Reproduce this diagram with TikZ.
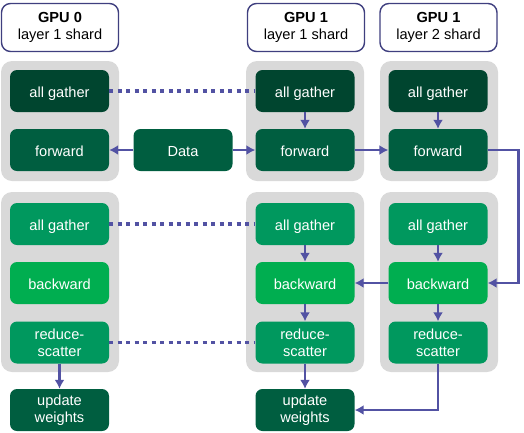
\documentclass[tikz,border=0pt]{standalone}
\usepackage{fontspec}
\setmainfont{Liberation Sans}
\usetikzlibrary{arrows.meta}
\definecolor{agtop}{HTML}{00452F}
\definecolor{fwd}{HTML}{005E40}
\definecolor{agbot}{HTML}{00985E}
\definecolor{bwd}{HTML}{00AE50}
\definecolor{panel}{HTML}{D9D9D9}
\definecolor{link}{HTML}{5252A3}
\definecolor{headline}{HTML}{3F3F7F}

\begin{document}
\begin{tikzpicture}[x=1pt,y=-1pt,>={Latex[length=9pt,width=10pt]},
	every node/.style={font=\fontsize{14.6}{17}\selectfont},
	head/.style={draw=headline,line width=1.4pt,fill=white,rounded corners=9pt,
		minimum width=117pt,minimum height=48pt,align=center,inner sep=0pt},
	panelbox/.style={fill=panel,rounded corners=11pt,minimum width=118pt,inner sep=0pt},
	stepbox/.style={rounded corners=7pt,minimum width=99pt,minimum height=42pt,
		align=center,text=white,inner sep=0pt},
	oneline/.style={stepbox,text height=13pt,text depth=0pt},
	arr/.style={->,link,line width=2.5pt},
	dots/.style={link,line width=3.5pt,dash pattern=on 4pt off 4.5pt}]
	
	\useasboundingbox (0,0) rectangle (524,432);
	
	% Headers
	\node[head] (h0) at (60,27.5) {\textbf{GPU 0}\\layer 1 shard};
	\node[head] (h1) at (306,27.5) {\textbf{GPU 1}\\layer 1 shard};
	\node[head] (h2) at (438.5,27.5) {\textbf{GPU 1}\\layer 2 shard};
	
	% Panels
	\node[panelbox,minimum height=120pt] (p0a) at (60,121) {};
	\node[panelbox,minimum height=180pt] (p0b) at (60,282) {};
	\node[panelbox,minimum height=120pt] (p1a) at (305,121) {};
	\node[panelbox,minimum height=180pt] (p1b) at (305,282) {};
	\node[panelbox,minimum height=120pt] (p2a) at (439,121) {};
	\node[panelbox,minimum height=180pt] (p2b) at (439,282) {};
	
	% Forward pass
	\node[oneline,fill=agtop] (ag0) at (59.5,91) {all gather};
	\node[oneline,fill=fwd] (fw0) at (59.5,150) {forward};
	\node[oneline,fill=fwd] (data) at (183,150) {Data};
	\node[oneline,fill=agtop] (ag1) at (305,91) {all gather};
	\node[oneline,fill=fwd] (fw1) at (305,150) {forward};
	\node[oneline,fill=agtop] (ag2) at (438,91) {all gather};
	\node[oneline,fill=fwd] (fw2) at (438,150) {forward};
	
	% Backward pass
	\node[oneline,fill=agbot] (bg0) at (59.5,224) {all gather};
	\node[oneline,fill=bwd] (bw0) at (59.5,283) {backward};
	\node[stepbox,fill=agbot] (rs0) at (59.5,342.5) {reduce-\\scatter};
	\node[stepbox,fill=fwd] (up0) at (59.5,410) {update\\weights};
	\node[oneline,fill=agbot] (bg1) at (305,224) {all gather};
	\node[oneline,fill=bwd] (bw1) at (305,283) {backward};
	\node[stepbox,fill=agbot] (rs1) at (305,342.5) {reduce-\\scatter};
	\node[stepbox,fill=fwd] (up1) at (305,410) {update\\weights};
	\node[oneline,fill=agbot] (bg2) at (438,224) {all gather};
	\node[oneline,fill=bwd] (bw2) at (438,283) {backward};
	\node[stepbox,fill=agbot] (rs2) at (438,342.5) {reduce-\\scatter};
	
	% Links between shards
	\draw[dots] (ag0) -- (ag1);
	\draw[dots] (bg0) -- (bg1);
	\draw[dots] (rs0) -- (rs1);
	
	% Arrows
	\draw[arr] (data) -- (fw0);
	\draw[arr] (data) -- (fw1);
	\draw[arr] (ag1) -- (fw1);
	\draw[arr] (ag2) -- (fw2);
	\draw[arr] (fw1) -- (fw2);
	\draw[arr] (fw2.east) -- ++(31,0) |- (bw2.east);
	\draw[arr] (bw2) -- (bw1);
	\draw[arr] (bg1) -- (bw1);
	\draw[arr] (bw1) -- (rs1);
	\draw[arr] (rs1) -- (up1);
	\draw[arr] (bg2) -- (bw2);
	\draw[arr] (bw2) -- (rs2);
	\draw[arr] (rs2.south) |- (up1.east);
	\draw[arr] (rs0) -- (up0);
	
\end{tikzpicture}
\end{document}
